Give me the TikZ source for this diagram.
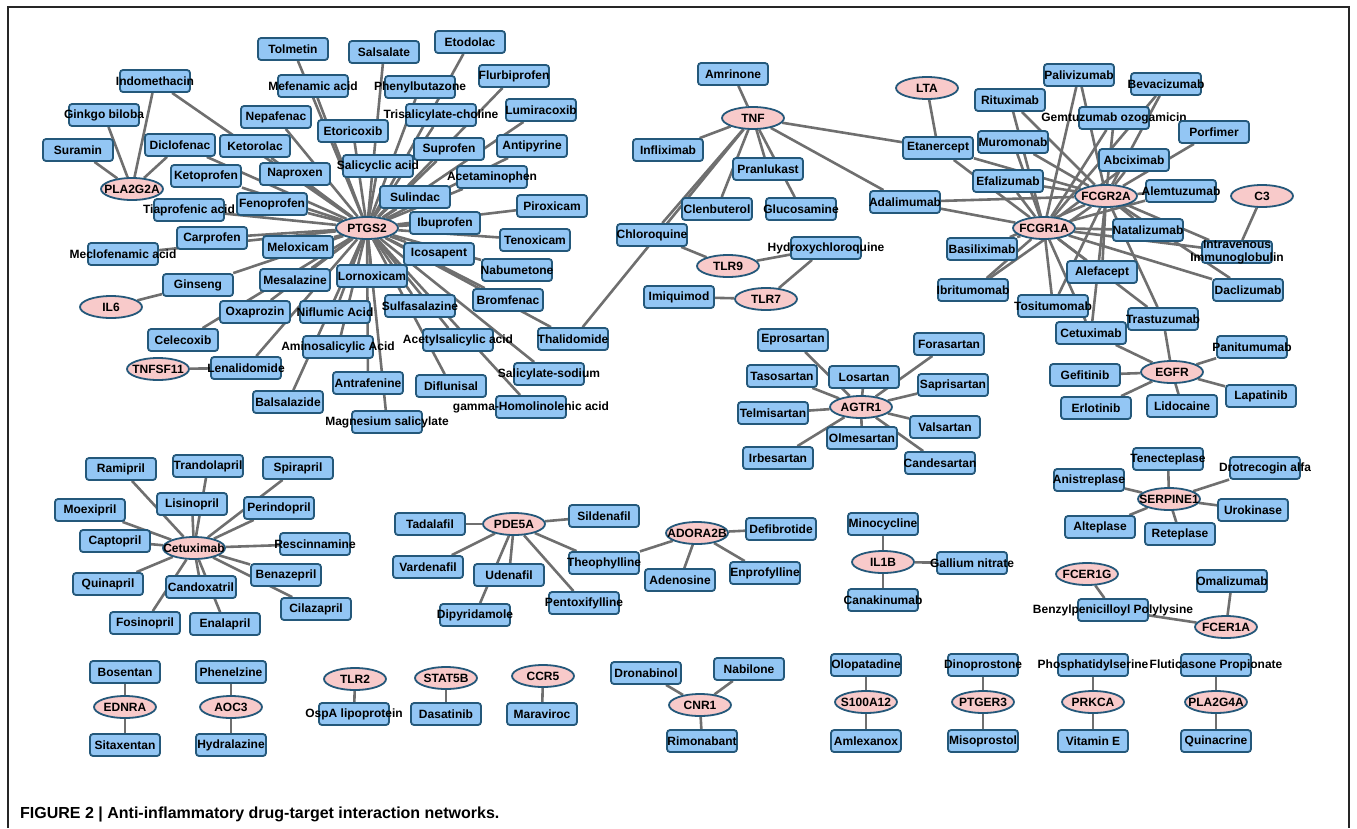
\documentclass[tikz,border=0pt]{standalone}
\usepackage{fontspec}
\setmainfont{Liberation Sans}
\usetikzlibrary{shapes.geometric,backgrounds}
\definecolor{drugfill}{HTML}{93C6F4}
\definecolor{targetfill}{HTML}{F8CACA}
\definecolor{nodeline}{HTML}{24587A}
\definecolor{edgegray}{HTML}{6F6F6F}

\begin{document}
\begin{tikzpicture}
        [x=1pt, y=-1pt,
         drugbox/.style={rectangle, rounded corners=3pt, draw=nodeline, line width=1.8pt, fill=drugfill, minimum width=70pt, minimum height=22pt, inner sep=0pt},
         targetnode/.style={ellipse, draw=nodeline, line width=1.8pt, fill=targetfill, minimum width=62pt, minimum height=22pt, inner sep=0pt},
         link/.style={draw=edgegray, line width=2.6pt},
         every label/.style={font=\bfseries\fontsize{12}{13}\selectfont, inner sep=0pt, text=black}]

        \useasboundingbox (0,0) rectangle (1357,828);
        \draw[line width=1.5pt, black!85] (8,828) -- (8,7) -- (1349,7) -- (1349,828);

        % targets
        \node[targetnode, label=center:{PLA2G2A}] (pla) at (132, 189) {};
        \node[targetnode, label=center:{PTGS2}] (ptgs) at (367, 228) {};
        \node[targetnode, label=center:{IL6}] (il6) at (111, 307) {};
        \node[targetnode, label=center:{TNFSF11}] (tnfsf) at (158, 369) {};
        \node[targetnode, label=center:{TNF}] (tnf) at (753, 118) {};
        \node[targetnode, label=center:{LTA}] (lta) at (927, 88) {};
        \node[targetnode, label=center:{TLR9}] (tlr9) at (728, 266) {};
        \node[targetnode, label=center:{TLR7}] (tlr7) at (766, 299) {};
        \node[targetnode, label=center:{FCGR2A}] (fcg2) at (1106, 196) {};
        \node[targetnode, label=center:{FCGR1A}] (fcg1) at (1044, 228) {};
        \node[targetnode, label=center:{C3}] (c3) at (1262, 196) {};
        \node[targetnode, label=center:{EGFR}] (egfr) at (1172, 372) {};
        \node[targetnode, label=center:{AGTR1}] (agtr) at (861, 407) {};
        \node[targetnode, label=center:{Cetuximab}] (cet) at (194, 548) {};
        \node[targetnode, label=center:{PDE5A}] (pde) at (514, 524) {};
        \node[targetnode, label=center:{ADORA2B}] (adora) at (697, 533) {};
        \node[targetnode, label=center:{IL1B}] (il1b) at (883, 562) {};
        \node[targetnode, label=center:{SERPINE1}] (serp) at (1169, 499) {};
        \node[targetnode, label=center:{FCER1G}] (fcerg) at (1087, 574) {};
        \node[targetnode, label=center:{FCER1A}] (fcera) at (1226, 627) {};
        \node[targetnode, label=center:{EDNRA}] (ednra) at (125, 707) {};
        \node[targetnode, label=center:{AOC3}] (aoc3) at (231, 707) {};
        \node[targetnode, label=center:{TLR2}] (tlr2) at (355, 679) {};
        \node[targetnode, label=center:{STAT5B}] (stat) at (446, 678) {};
        \node[targetnode, label=center:{CCR5}] (ccr5) at (543, 676) {};
        \node[targetnode, label=center:{CNR1}] (cnr1) at (700, 705) {};
        \node[targetnode, label=center:{S100A12}] (s100) at (866, 702) {};
        \node[targetnode, label=center:{PTGER3}] (ptger) at (983, 702) {};
        \node[targetnode, label=center:{PRKCA}] (prkca) at (1093, 702) {};
        \node[targetnode, label=center:{PLA2G4A}] (pla4) at (1216, 702) {};

        % drugs
        \node[drugbox, label=center:{Tolmetin}] (tolm) at (293, 49) {};
        \node[drugbox, label=center:{Indomethacin}] (indo) at (155, 81) {};
        \node[drugbox, label=center:{Mefenamic acid}] (mefen) at (313, 86) {};
        \node[drugbox, label=center:{Ginkgo biloba}] (ginkgo) at (104, 115) {};
        \node[drugbox, label=center:{Nepafenac}] (nepaf) at (276, 117) {};
        \node[drugbox, label=center:{Etoricoxib}] (etori) at (353, 131) {};
        \node[drugbox, label=center:{Suramin}] (suram) at (78, 150) {};
        \node[drugbox, label=center:{Diclofenac}] (diclo) at (180, 145) {};
        \node[drugbox, label=center:{Ketorolac}] (ketor) at (255, 146) {};
        \node[drugbox, label=center:{Ketoprofen}] (ketop) at (206, 176) {};
        \node[drugbox, label=center:{Naproxen}] (napro) at (295, 174) {};
        \node[drugbox, label=center:{Tiaprofenic acid}] (tiapro) at (189, 210) {};
        \node[drugbox, label=center:{Fenoprofen}] (fenop) at (272, 204) {};
        \node[drugbox, label=center:{Carprofen}] (carpro) at (212, 238) {};
        \node[drugbox, label=center:{Meclofenamic acid}] (meclo) at (123, 254) {};
        \node[drugbox, label=center:{Meloxicam}] (melox) at (298, 247) {};
        \node[drugbox, label=center:{Mesalazine}] (mesal) at (295, 280) {};
        \node[drugbox, label=center:{Salsalate}] (salsa) at (384, 52) {};
        \node[drugbox, label=center:{Etodolac}] (etodo) at (470, 42) {};
        \node[drugbox, label=center:{Phenylbutazone}] (phenyl) at (420, 87) {};
        \node[drugbox, label=center:{Flurbiprofen}] (flurbi) at (514, 76) {};
        \node[drugbox, label=center:{Trisalicylate-choline}] (trisal) at (441, 115) {};
        \node[drugbox, label=center:{Lumiracoxib}] (lumira) at (541, 110) {};
        \node[drugbox, label=center:{Suprofen}] (supro) at (449, 149) {};
        \node[drugbox, label=center:{Antipyrine}] (antipy) at (532, 146) {};
        \node[drugbox, label=center:{Salicyclic acid}] (salic) at (378, 166) {};
        \node[drugbox, label=center:{Acetaminophen}] (acetam) at (492, 177) {};
        \node[drugbox, label=center:{Sulindac}] (sulin) at (415, 197) {};
        \node[drugbox, label=center:{Piroxicam}] (pirox) at (552, 206) {};
        \node[drugbox, label=center:{Ibuprofen}] (ibupr) at (445, 223) {};
        \node[drugbox, label=center:{Tenoxicam}] (tenox) at (535, 240) {};
        \node[drugbox, label=center:{Icosapent}] (icosa) at (439, 254) {};
        \node[drugbox, label=center:{Nabumetone}] (nabum) at (517, 270) {};
        \node[drugbox, label=center:{Lornoxicam}] (lornox) at (372, 276) {};
        \node[drugbox, label=center:{Ginseng}] (ginseng) at (198, 285) {};
        \node[drugbox, label=center:{Oxaprozin}] (oxapr) at (255, 312) {};
        \node[drugbox, label=center:{Niflumic Acid}] (niflu) at (335, 312) {};
        \node[drugbox, label=center:{Celecoxib}] (celec) at (183, 340) {};
        \node[drugbox, label=center:{Aminosalicylic Acid}] (amino) at (338, 347) {};
        \node[drugbox, label=center:{Lenalidomide}] (lenal) at (246, 368) {};
        \node[drugbox, label=center:{Balsalazide}] (balsa) at (288, 402) {};
        \node[drugbox, label=center:{Antrafenine}] (antraf) at (368, 383) {};
        \node[drugbox, label=center:{Magnesium salicylate}] (magne) at (387, 422) {};
        \node[drugbox, label=center:{Sulfasalazine}] (sulfa) at (420, 306) {};
        \node[drugbox, label=center:{Bromfenac}] (bromf) at (508, 300) {};
        \node[drugbox, label=center:{Acetylsalicylic acid}] (acetyl) at (458, 340) {};
        \node[drugbox, label=center:{Thalidomide}] (thalid) at (573, 339) {};
        \node[drugbox, label=center:{Diflunisal}] (diflu) at (451, 386) {};
        \node[drugbox, label=center:{Salicylate-sodium}] (salsod) at (549, 374) {};
        \node[drugbox, label=center:{gamma-Homolinolenic acid}] (gamma) at (531, 407) {};

        \node[drugbox, label=center:{Amrinone}] (amrin) at (733, 74) {};
        \node[drugbox, label=center:{Infliximab}] (inflix) at (668, 150) {};
        \node[drugbox, label=center:{Chloroquine}] (chloro) at (652, 235) {};
        \node[drugbox, label=center:{Pranlukast}] (pranl) at (768, 169) {};
        \node[drugbox, label=center:{Clenbuterol}] (clenb) at (717, 209) {};
        \node[drugbox, label=center:{Glucosamine}] (gluco) at (801, 209) {};
        \node[drugbox, label=center:{Adalimumab}] (adali) at (905, 202) {};
        \node[drugbox, label=center:{Etanercept}] (etaner) at (938, 148) {};
        \node[drugbox, label=center:{Hydroxychloroquine}] (hydroxy) at (826, 248) {};
        \node[drugbox, label=center:{Imiquimod}] (imiq) at (679, 297) {};

        \node[drugbox, label=center:{Palivizumab}] (paliv) at (1079, 75) {};
        \node[drugbox, label=center:{Bevacizumab}] (bevac) at (1166, 84) {};
        \node[drugbox, label=center:{Rituximab}] (ritux) at (1010, 100) {};
        \node[drugbox, label=center:{Gemtuzumab ozogamicin}] (gemtu) at (1114, 118) {};
        \node[drugbox, label=center:{Porfimer}] (porfi) at (1214, 132) {};
        \node[drugbox, label=center:{Muromonab}] (murom) at (1013, 142) {};
        \node[drugbox, label=center:{Abciximab}] (abcix) at (1134, 160) {};
        \node[drugbox, label=center:{Efalizumab}] (efali) at (1008, 181) {};
        \node[drugbox, label=center:{Alemtuzumab}] (alemt) at (1181, 191) {};
        \node[drugbox, label=center:{Natalizumab}] (natal) at (1148, 230) {};
        \node[drugbox, label={[align=center]center:{Intravenous\\Immunoglobulin}}] (ivig) at (1237, 252) {};
        \node[drugbox, label=center:{Basiliximab}] (basil) at (982, 249) {};
        \node[drugbox, label=center:{Ibritumomab}] (ibrit) at (973, 290) {};
        \node[drugbox, label=center:{Alefacept}] (alefa) at (1102, 272) {};
        \node[drugbox, label=center:{Daclizumab}] (dacli) at (1248, 290) {};
        \node[drugbox, label=center:{Tositumomab}] (tosit) at (1053, 306) {};
        \node[drugbox, label=center:{Trastuzumab}] (trast) at (1163, 319) {};
        \node[drugbox, label=center:{Cetuximab}] (cetux) at (1091, 333) {};
        \node[drugbox, label=center:{Panitumumab}] (panit) at (1252, 347) {};
        \node[drugbox, label=center:{Gefitinib}] (gefit) at (1085, 375) {};
        \node[drugbox, label=center:{Lapatinib}] (lapat) at (1261, 396) {};
        \node[drugbox, label=center:{Erlotinib}] (erlot) at (1096, 408) {};
        \node[drugbox, label=center:{Lidocaine}] (lido) at (1182, 406) {};

        \node[drugbox, label=center:{Eprosartan}] (epro) at (793, 340) {};
        \node[drugbox, label=center:{Forasartan}] (fora) at (949, 344) {};
        \node[drugbox, label=center:{Tasosartan}] (taso) at (782, 376) {};
        \node[drugbox, label=center:{Losartan}] (losa) at (864, 377) {};
        \node[drugbox, label=center:{Saprisartan}] (sapri) at (953, 385) {};
        \node[drugbox, label=center:{Telmisartan}] (telmi) at (773, 413) {};
        \node[drugbox, label=center:{Valsartan}] (valsa) at (945, 427) {};
        \node[drugbox, label=center:{Olmesartan}] (olme) at (862, 438) {};
        \node[drugbox, label=center:{Irbesartan}] (irbe) at (778, 458) {};
        \node[drugbox, label=center:{Candesartan}] (cande) at (940, 463) {};

        \node[drugbox, label=center:{Ramipril}] (rami) at (121, 469) {};
        \node[drugbox, label=center:{Trandolapril}] (trando) at (208, 466) {};
        \node[drugbox, label=center:{Spirapril}] (spira) at (298, 468) {};
        \node[drugbox, label=center:{Moexipril}] (moexi) at (90, 510) {};
        \node[drugbox, label=center:{Lisinopril}] (lisin) at (192, 504) {};
        \node[drugbox, label=center:{Perindopril}] (perin) at (279, 508) {};
        \node[drugbox, label=center:{Captopril}] (capto) at (115, 541) {};
        \node[drugbox, label=center:{Rescinnamine}] (rescin) at (315, 544) {};
        \node[drugbox, label=center:{Quinapril}] (quina) at (108, 584) {};
        \node[drugbox, label=center:{Candoxatril}] (candox) at (201, 587) {};
        \node[drugbox, label=center:{Benazepril}] (benaz) at (286, 575) {};
        \node[drugbox, label=center:{Cilazapril}] (cilaz) at (316, 609) {};
        \node[drugbox, label=center:{Fosinopril}] (fosin) at (145, 623) {};
        \node[drugbox, label=center:{Enalapril}] (enala) at (225, 624) {};

        \node[drugbox, label=center:{Bosentan}] (bosen) at (125, 672) {};
        \node[drugbox, label=center:{Sitaxentan}] (sitax) at (125, 745) {};
        \node[drugbox, label=center:{Phenelzine}] (phenel) at (231, 672) {};
        \node[drugbox, label=center:{Hydralazine}] (hydral) at (231, 745) {};
        \node[drugbox, label=center:{OspA lipoprotein}] (ospa) at (354, 714) {};
        \node[drugbox, label=center:{Dasatinib}] (dasat) at (446, 714) {};
        \node[drugbox, label=center:{Maraviroc}] (marav) at (542, 714) {};

        \node[drugbox, label=center:{Tadalafil}] (tadal) at (430, 524) {};
        \node[drugbox, label=center:{Sildenafil}] (silden) at (604, 516) {};
        \node[drugbox, label=center:{Defibrotide}] (defib) at (781, 529) {};
        \node[drugbox, label=center:{Vardenafil}] (varden) at (428, 567) {};
        \node[drugbox, label=center:{Udenafil}] (udena) at (509, 575) {};
        \node[drugbox, label=center:{Theophylline}] (theoph) at (604, 563) {};
        \node[drugbox, label=center:{Adenosine}] (adeno) at (680, 580) {};
        \node[drugbox, label=center:{Enprofylline}] (enprof) at (765, 573) {};
        \node[drugbox, label=center:{Dipyridamole}] (dipyr) at (475, 615) {};
        \node[drugbox, label=center:{Pentoxifylline}] (pentox) at (584, 603) {};

        \node[drugbox, label=center:{Dronabinol}] (dronab) at (646, 673) {};
        \node[drugbox, label=center:{Nabilone}] (nabil) at (749, 669) {};
        \node[drugbox, label=center:{Rimonabant}] (rimon) at (702, 741) {};

        \node[drugbox, label=center:{Minocycline}] (minoc) at (883, 524) {};
        \node[drugbox, label=center:{Gallium nitrate}] (gall) at (972, 563) {};
        \node[drugbox, label=center:{Canakinumab}] (canak) at (883, 600) {};

        \node[drugbox, label=center:{Anistreplase}] (anist) at (1089, 480) {};
        \node[drugbox, label=center:{Tenecteplase}] (tenec) at (1168, 459) {};
        \node[drugbox, label=center:{Drotrecogin alfa}] (drotr) at (1265, 468) {};
        \node[drugbox, label=center:{Urokinase}] (uroki) at (1253, 510) {};
        \node[drugbox, label=center:{Alteplase}] (altep) at (1100, 527) {};
        \node[drugbox, label=center:{Reteplase}] (retep) at (1180, 534) {};

        \node[drugbox, label=center:{Omalizumab}] (omali) at (1232, 581) {};
        \node[drugbox, label=center:{Benzylpenicilloyl Polylysine}] (benzyl) at (1113, 610) {};

        \node[drugbox, label=center:{Olopatadine}] (olopa) at (866, 665) {};
        \node[drugbox, label=center:{Amlexanox}] (amlex) at (866, 741) {};
        \node[drugbox, label=center:{Dinoprostone}] (dinop) at (983, 665) {};
        \node[drugbox, label=center:{Misoprostol}] (misop) at (983, 741) {};
        \node[drugbox, label=center:{Phosphatidylserine}] (phosph) at (1093, 665) {};
        \node[drugbox, label=center:{Vitamin E}] (vite) at (1093, 741) {};
        \node[drugbox, label=center:{Fluticasone Propionate}] (flutic) at (1216, 665) {};
        \node[drugbox, label=center:{Quinacrine}] (quinac) at (1216, 741) {};

        \node[anchor=base west, inner sep=0pt, font=\bfseries\fontsize{16}{18}\selectfont] (caption) at (20, 818) {FIGURE 2 | Anti-inflammatory drug-target interaction networks.};

        \begin{scope}[on background layer, every path/.style={link}]
        \draw (pla) -- (suram);
        \draw (pla) -- (ginkgo);
        \draw (pla) -- (indo);
        \draw (pla) -- (diclo);
        \draw (ptgs) -- (tolm);
        \draw (ptgs) -- (indo);
        \draw (ptgs) -- (mefen);
        \draw (ptgs) -- (nepaf);
        \draw (ptgs) -- (etori);
        \draw (ptgs) -- (diclo);
        \draw (ptgs) -- (ketor);
        \draw (ptgs) -- (ketop);
        \draw (ptgs) -- (napro);
        \draw (ptgs) -- (tiapro);
        \draw (ptgs) -- (fenop);
        \draw (ptgs) -- (carpro);
        \draw (ptgs) -- (meclo);
        \draw (ptgs) -- (melox);
        \draw (ptgs) -- (mesal);
        \draw (ptgs) -- (salsa);
        \draw (ptgs) -- (etodo);
        \draw (ptgs) -- (phenyl);
        \draw (ptgs) -- (flurbi);
        \draw (ptgs) -- (trisal);
        \draw (ptgs) -- (lumira);
        \draw (ptgs) -- (supro);
        \draw (ptgs) -- (antipy);
        \draw (ptgs) -- (salic);
        \draw (ptgs) -- (acetam);
        \draw (ptgs) -- (sulin);
        \draw (ptgs) -- (pirox);
        \draw (ptgs) -- (ibupr);
        \draw (ptgs) -- (tenox);
        \draw (ptgs) -- (icosa);
        \draw (ptgs) -- (nabum);
        \draw (ptgs) -- (lornox);
        \draw (ptgs) -- (ginseng);
        \draw (ptgs) -- (oxapr);
        \draw (ptgs) -- (niflu);
        \draw (ptgs) -- (celec);
        \draw (ptgs) -- (amino);
        \draw (ptgs) -- (lenal);
        \draw (ptgs) -- (balsa);
        \draw (ptgs) -- (antraf);
        \draw (ptgs) -- (magne);
        \draw (ptgs) -- (sulfa);
        \draw (ptgs) -- (bromf);
        \draw (ptgs) -- (acetyl);
        \draw (ptgs) -- (thalid);
        \draw (ptgs) -- (diflu);
        \draw (ptgs) -- (salsod);
        \draw (ptgs) -- (gamma);
        \draw (il6) -- (ginseng);
        \draw (tnfsf) -- (lenal);

        \draw (tnf) -- (amrin);
        \draw (tnf) -- (inflix);
        \draw (tnf) -- (chloro);
        \draw (tnf) -- (thalid);
        \draw (tnf) -- (pranl);
        \draw (tnf) -- (clenb);
        \draw (tnf) -- (gluco);
        \draw (tnf) -- (adali);
        \draw (tnf) -- (etaner);
        \draw (lta) -- (etaner);
        \draw (tlr9) -- (chloro);
        \draw (tlr9) -- (hydroxy);
        \draw (tlr7) -- (hydroxy);
        \draw (tlr7) -- (imiq);

        \draw (fcg1) -- (adali);
        \draw (fcg2) -- (adali);
        \draw (fcg1) -- (etaner);
        \draw (fcg2) -- (etaner);
        \draw (fcg1) -- (ritux);
        \draw (fcg2) -- (ritux);
        \draw (fcg1) -- (paliv);
        \draw (fcg2) -- (paliv);
        \draw (fcg1) -- (bevac);
        \draw (fcg2) -- (bevac);
        \draw (fcg1) -- (gemtu);
        \draw (fcg2) -- (gemtu);
        \draw (fcg1) -- (murom);
        \draw (fcg2) -- (murom);
        \draw (fcg1) -- (abcix);
        \draw (fcg2) -- (abcix);
        \draw (fcg2) -- (porfi);
        \draw (fcg1) -- (efali);
        \draw (fcg2) -- (efali);
        \draw (fcg1) -- (alemt);
        \draw (fcg2) -- (alemt);
        \draw (fcg1) -- (natal);
        \draw (fcg2) -- (natal);
        \draw (fcg1) -- (ivig);
        \draw (fcg2) -- (ivig);
        \draw (c3) -- (ivig);
        \draw (fcg1) -- (basil);
        \draw (fcg2) -- (basil);
        \draw (fcg1) -- (ibrit);
        \draw (fcg2) -- (ibrit);
        \draw (fcg1) -- (alefa);
        \draw (fcg2) -- (alefa);
        \draw (fcg1) -- (dacli);
        \draw (fcg2) -- (dacli);
        \draw (fcg1) -- (tosit);
        \draw (fcg2) -- (tosit);
        \draw (fcg1) -- (trast);
        \draw (fcg2) -- (trast);
        \draw (fcg1) -- (cetux);
        \draw (fcg2) -- (cetux);

        \draw (egfr) -- (cetux);
        \draw (egfr) -- (trast);
        \draw (egfr) -- (panit);
        \draw (egfr) -- (gefit);
        \draw (egfr) -- (erlot);
        \draw (egfr) -- (lido);
        \draw (egfr) -- (lapat);

        \draw (agtr) -- (epro);
        \draw (agtr) -- (fora);
        \draw (agtr) -- (taso);
        \draw (agtr) -- (losa);
        \draw (agtr) -- (sapri);
        \draw (agtr) -- (telmi);
        \draw (agtr) -- (valsa);
        \draw (agtr) -- (olme);
        \draw (agtr) -- (irbe);
        \draw (agtr) -- (cande);

        \draw (cet) -- (rami);
        \draw (cet) -- (trando);
        \draw (cet) -- (spira);
        \draw (cet) -- (moexi);
        \draw (cet) -- (lisin);
        \draw (cet) -- (perin);
        \draw (cet) -- (capto);
        \draw (cet) -- (rescin);
        \draw (cet) -- (quina);
        \draw (cet) -- (candox);
        \draw (cet) -- (benaz);
        \draw (cet) -- (cilaz);
        \draw (cet) -- (fosin);
        \draw (cet) -- (enala);

        \draw (pde) -- (tadal);
        \draw (pde) -- (silden);
        \draw (pde) -- (varden);
        \draw (pde) -- (udena);
        \draw (pde) -- (dipyr);
        \draw (pde) -- (pentox);
        \draw (pde) -- (theoph);
        \draw (adora) -- (theoph);
        \draw (adora) -- (defib);
        \draw (adora) -- (adeno);
        \draw (adora) -- (enprof);

        \draw (il1b) -- (minoc);
        \draw (il1b) -- (gall);
        \draw (il1b) -- (canak);
        \draw (serp) -- (tenec);
        \draw (serp) -- (anist);
        \draw (serp) -- (drotr);
        \draw (serp) -- (uroki);
        \draw (serp) -- (altep);
        \draw (serp) -- (retep);
        \draw (fcerg) -- (benzyl);
        \draw (fcera) -- (benzyl);
        \draw (fcera) -- (omali);

        \draw (ednra) -- (bosen);
        \draw (ednra) -- (sitax);
        \draw (aoc3) -- (phenel);
        \draw (aoc3) -- (hydral);
        \draw (tlr2) -- (ospa);
        \draw (stat) -- (dasat);
        \draw (ccr5) -- (marav);
        \draw (cnr1) -- (dronab);
        \draw (cnr1) -- (nabil);
        \draw (cnr1) -- (rimon);
        \draw (s100) -- (olopa);
        \draw (s100) -- (amlex);
        \draw (ptger) -- (dinop);
        \draw (ptger) -- (misop);
        \draw (prkca) -- (phosph);
        \draw (prkca) -- (vite);
        \draw (pla4) -- (flutic);
        \draw (pla4) -- (quinac);
        \end{scope}
      \end{tikzpicture}
\end{document}
